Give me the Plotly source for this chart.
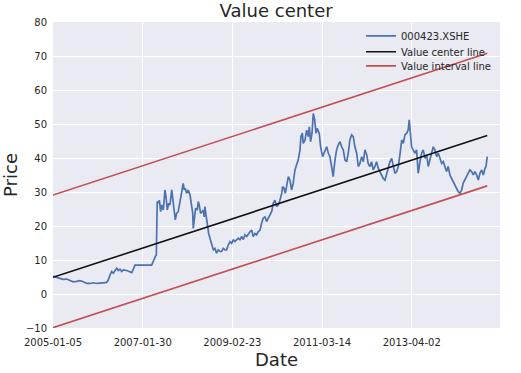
import plotly.graph_objects as go

# ---- data ----
days = [0, 21, 39, 57, 76, 95, 113, 132, 150, 169, 188, 206, 225, 244, 262, 280, 299, 308, 318, 327,
        336, 346, 355, 364, 373, 383, 392, 411, 429, 439, 448, 457, 485, 522, 550, 556, 563, 570, 576, 578,
        581, 587, 593, 600, 606, 615, 624, 630, 637, 645, 652, 662, 667, 674, 682, 689, 698, 708, 717, 726,
        732, 737, 745, 754, 764, 773, 779, 782, 788, 795, 804, 810, 815, 823, 831, 838, 843, 847, 853, 860,
        868, 875, 885, 894, 903, 912, 921, 931, 940, 949, 959, 968, 977, 987, 996, 1005, 1014, 1024, 1033, 1042,
        1052, 1061, 1070, 1080, 1089, 1098, 1108, 1116, 1126, 1135, 1144, 1154, 1163, 1172, 1182, 1191, 1200, 1210, 1219, 1228,
        1237, 1247, 1256, 1265, 1275, 1280, 1288, 1295, 1303, 1312, 1321, 1330, 1339, 1349, 1358, 1367, 1377, 1382, 1390, 1395,
        1405, 1414, 1423, 1429, 1436, 1444, 1451, 1459, 1466, 1473, 1484, 1492, 1503, 1516, 1526, 1535,
        1544, 1553, 1562, 1572, 1581, 1590, 1600, 1609, 1618, 1628, 1637, 1646, 1655, 1665, 1674, 1683, 1693, 1702, 1711, 1721,
        1730, 1739, 1749, 1757, 1767, 1776, 1785, 1795, 1804, 1813, 1823, 1832, 1841, 1851, 1860, 1869, 1878, 1888, 1897, 1906,
        1916, 1925, 1934, 1944, 1953, 1962, 1972, 1980, 1986, 1994, 1999, 2008, 2018, 2027,
        2036, 2046, 2055, 2064, 2074, 2083, 2092, 2101, 2111, 2120, 2129, 2139, 2148, 2157, 2167, 2176, 2185, 2194, 2203, 2213,
        2222, 2231, 2241, 2250, 2259, 2269, 2278, 2287, 2296, 2306, 2315, 2324, 2334, 2343, 2352, 2362, 2371, 2380, 2390, 2399,
        2408, 2414, 2421]
price = [5.2, 4.8, 4.6, 4.3, 4.4, 4.1, 3.6, 3.7, 3.9, 3.6, 3.1, 3.1, 3.3, 3.1, 3.1, 3.3, 3.4, 4.1, 5.6, 6.6,
         6.1, 7.1, 7.6, 6.9, 7.3, 6.6, 7.1, 6.9, 6.6, 6.3, 7.3, 8.5, 8.5, 8.5, 8.5, 9.2, 10.5, 11.0, 11.5, 25.7,
         27.2, 26.7, 27.6, 24.2, 26.2, 24.7, 30.6, 28.6, 24.7, 26.7, 26.2, 30.6, 27.6, 25.2, 21.8, 23.7, 24.2, 27.6, 29.6, 32.5,
         30.6, 31.1, 29.6, 30.6, 29.1, 25.2, 23.7, 19.3, 22.7, 25.2, 24.7, 27.2, 26.2, 23.7, 24.2, 24.7, 22.7, 25.7, 23.2, 19.8,
         17.8, 16.4, 14.9, 13.0, 13.4, 12.0, 13.0, 12.5, 12.5, 13.4, 13.0, 13.0, 14.4, 15.4, 14.9, 15.9, 15.4, 15.9, 16.4, 16.0,
         16.9, 16.0, 17.4, 16.9, 17.8, 18.3, 18.8, 16.9, 17.8, 17.4, 18.3, 18.8, 20.8, 22.3, 22.7, 21.3, 22.3, 23.2, 24.2, 26.7,
         27.6, 25.7, 26.2, 27.6, 29.6, 31.6, 31.1, 29.6, 31.6, 34.5, 33.5, 30.6, 32.6, 36.5, 38.0, 39.4, 42.4, 46.3, 47.3, 44.3,
         45.3, 48.2, 46.3, 49.2, 44.8, 47.3, 53.1, 51.2, 47.3, 48.7, 47.3, 43.3, 40.4, 42.4, 43.3, 41.4,
         40.4, 37.5, 34.5, 39.4, 42.4, 43.8, 44.8, 43.3, 42.4, 39.4, 38.9, 41.4, 45.3, 46.8, 46.3, 43.3, 41.4, 37.5, 38.4, 40.4,
         38.9, 42.4, 40.9, 38.4, 37.5, 38.9, 36.5, 37.5, 38.9, 37.0, 36.0, 35.0, 34.0, 33.5, 35.5, 37.5, 38.9, 39.9, 37.5, 35.5,
         36.0, 37.5, 40.9, 45.3, 44.3, 46.8, 47.3, 48.2, 51.2, 46.3, 43.3, 42.4, 41.4, 42.4,
         35.5, 38.9, 41.4, 42.4, 39.9, 40.9, 37.5, 39.4, 41.4, 43.3, 42.4, 40.4, 41.4, 39.9, 38.4, 38.9, 37.5, 36.0, 37.5, 35.0,
         34.0, 33.0, 31.6, 31.1, 30.1, 29.6, 30.6, 32.6, 33.5, 34.5, 35.5, 36.5, 36.0, 35.0, 36.0, 35.0, 33.5, 35.5, 36.5, 35.0,
         36.9, 37.5, 40.4]

line_days = [0, 2421]
center_line = [4.9, 46.6]
upper_line = [29.1, 70.8]
lower_line = [-9.9, 31.8]

tick_days = [0, 500, 1000, 1500, 2000]
tick_labels = ["2005-01-05", "2007-01-30", "2009-02-23", "2011-03-14", "2013-04-02"]

FONT = "DejaVu Sans, Liberation Sans, sans-serif"
TXT = "#262626"

fig = go.Figure()
fig.add_trace(go.Scatter(x=days, y=price, mode="lines", name="000423.XSHE", legend="legend",
                         line=dict(color="#4C72B0", width=1.7)))
fig.add_trace(go.Scatter(x=line_days, y=center_line, mode="lines", name="Value center line",
                         legend="legend2", line=dict(color="#111111", width=1.6)))
fig.add_trace(go.Scatter(x=line_days, y=upper_line, mode="lines", name="Value interval line",
                         legend="legend3", legendgroup="iv", line=dict(color="#C44E52", width=1.6)))
fig.add_trace(go.Scatter(x=line_days, y=lower_line, mode="lines", name="Value interval line",
                         legend="legend3", legendgroup="iv", showlegend=False,
                         line=dict(color="#C44E52", width=1.6)))

leg = dict(xanchor="left", yanchor="top", bgcolor="rgba(0,0,0,0)",
           font=dict(size=10, color=TXT, family=FONT))
fig.update_layout(
    width=521, height=373,
    margin=dict(l=53, r=21, t=22, b=45, autoexpand=False),
    paper_bgcolor="white", plot_bgcolor="#EAEAF2",
    font=dict(family=FONT, size=10, color=TXT),
    title=dict(text="Value center", x=0.53, xanchor="center", y=0.971, yanchor="middle",
               xref="container", yref="container", font=dict(size=18, color=TXT)),
    legend=dict(leg, x=0.689, y=1.002),
    legend2=dict(leg, x=0.689, y=0.950),
    legend3=dict(leg, x=0.689, y=0.904),
    showlegend=True,
)
fig.update_xaxes(range=[0, 2492], tickvals=tick_days, ticktext=tick_labels, automargin=False,
                 showgrid=True, gridcolor="white", gridwidth=1, zeroline=False, showline=False,
                 ticks="outside", ticklen=5, tickcolor="rgba(0,0,0,0)",
                 tickfont=dict(size=10, color=TXT),
                 title=dict(text="Date", font=dict(size=18, color=TXT), standoff=6))
fig.update_yaxes(range=[-10, 80], dtick=10, tick0=0, automargin=False,
                 showgrid=True, gridcolor="white", gridwidth=1, zeroline=False, showline=False,
                 ticks="outside", ticklen=3, tickcolor="rgba(0,0,0,0)",
                 tickfont=dict(size=10, color=TXT),
                 title=dict(text="Price", font=dict(size=18, color=TXT), standoff=8))

fig.write_html("out.html", config={"displayModeBar": False},
               post_script="document.body.style.margin='0';")
